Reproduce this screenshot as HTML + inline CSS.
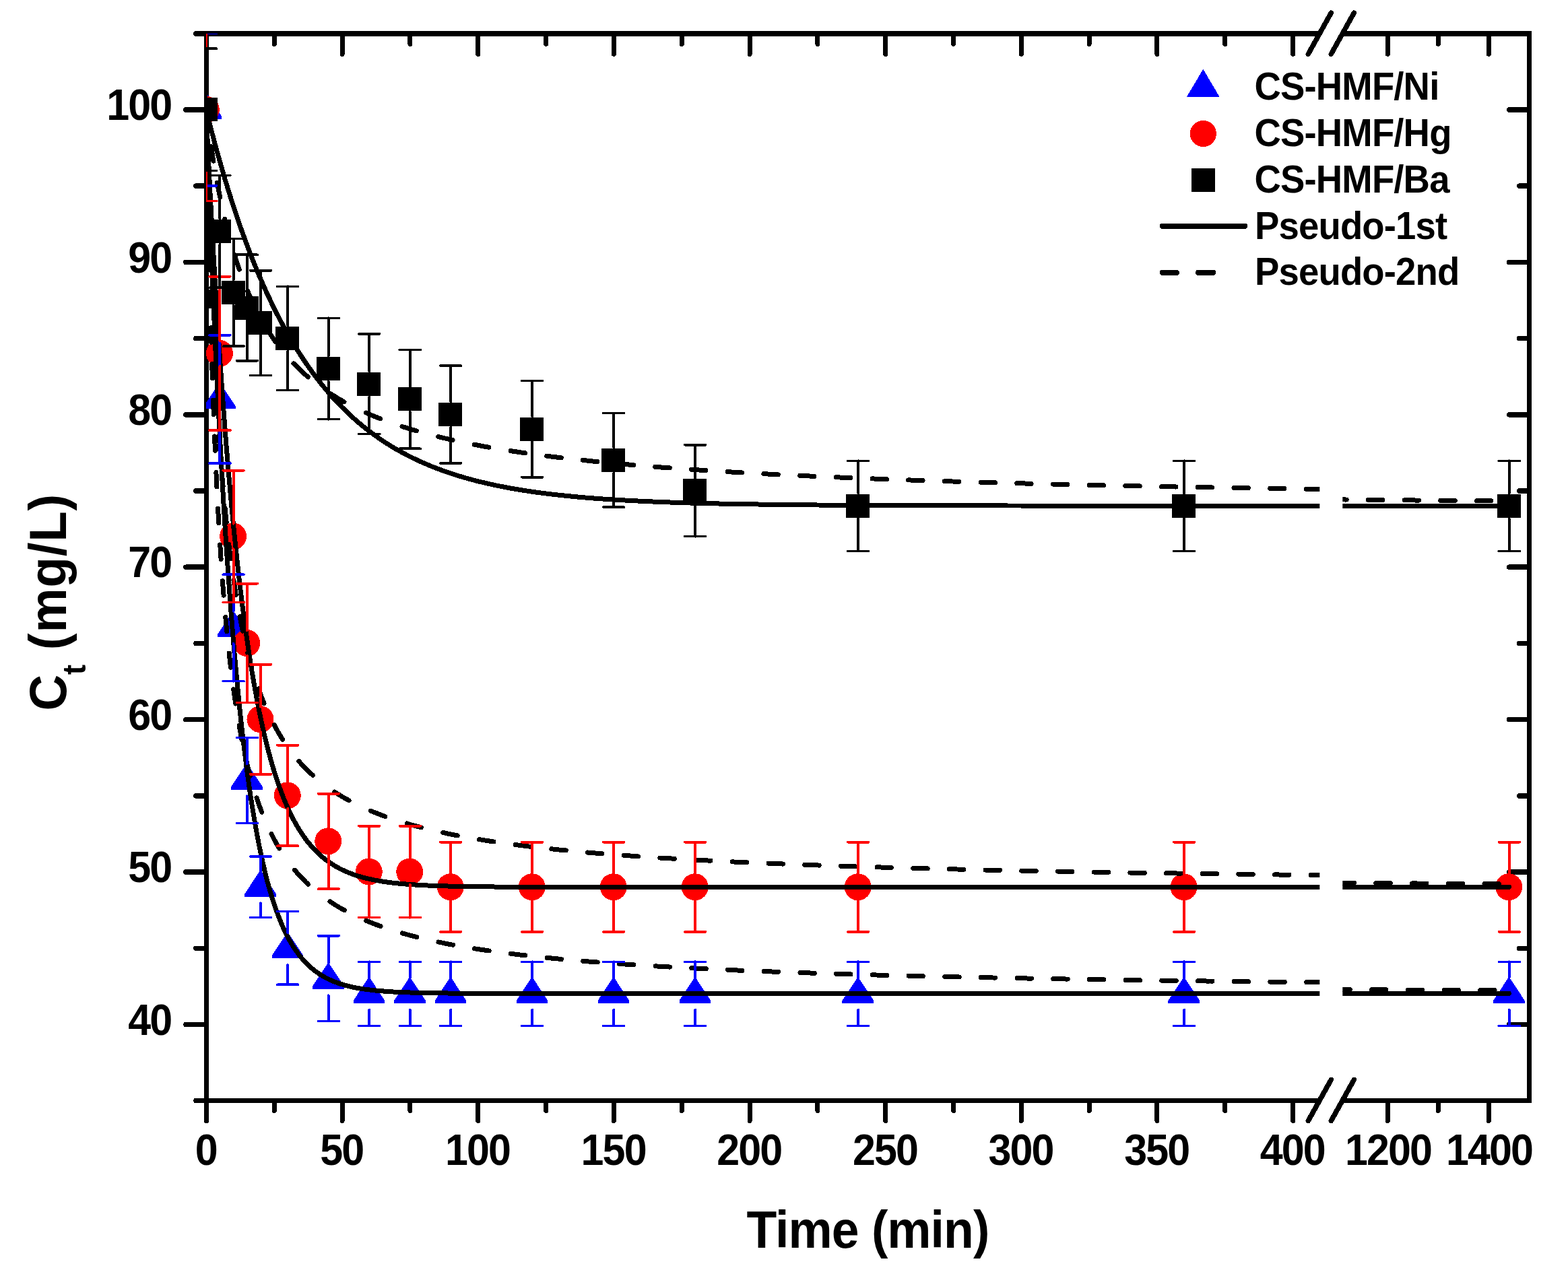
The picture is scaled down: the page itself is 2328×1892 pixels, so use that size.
<!DOCTYPE html>
<html lang="en"><head><meta charset="utf-8"><title>Adsorption kinetics</title>
<style>html,body{margin:0;padding:0;background:#fff}body{width:2328px;height:1892px;overflow:hidden}svg{display:block}text{font-family:"Liberation Sans",sans-serif;font-weight:bold;fill:#000}</style>
</head><body>
<svg width="2328" height="1892" viewBox="0 0 2328 1892" role="img" aria-label="Adsorption kinetics chart">
<rect x="0" y="0" width="2328" height="1892" fill="#fff"/>
<defs>
<clipPath id="c1"><rect x="306.00" y="50.00" width="1653.30" height="1584.50"/></clipPath>
<clipPath id="c2"><rect x="1993.30" y="50.00" width="277.20" height="1584.50"/></clipPath>
<clipPath id="call"><rect x="306.00" y="50.00" width="1653.30" height="1584.50"/><rect x="1993.30" y="50.00" width="277.20" height="1584.50"/></clipPath>
</defs>
<g id="axes" stroke="#000" fill="none" stroke-linecap="butt" shape-rendering="crispEdges">
<path stroke-width="8" d="M306.50 50.00H1959.30M1993.30 50.00H2274.00"/>
<path stroke-width="7" d="M306.50 1634.50H1959.30M1993.30 1634.50H2274.00"/>
<path stroke-width="7" d="M306.50 50.00V1634.50"/>
<path stroke-width="7" d="M2270.50 46.00V1638.00"/>
</g>
<g id="ticks" stroke="#000" fill="none" stroke-linecap="round" shape-rendering="crispEdges">
<path stroke-width="7" d="M306.50 1634.50V1664.50M407.32 50.00V65.40M407.32 1634.50V1649.50M508.14 50.00V80.40M508.14 1634.50V1664.50M608.96 50.00V65.40M608.96 1634.50V1649.50M709.78 50.00V80.40M709.78 1634.50V1664.50M810.60 50.00V65.40M810.60 1634.50V1649.50M911.42 50.00V80.40M911.42 1634.50V1664.50M1012.24 50.00V65.40M1012.24 1634.50V1649.50M1113.06 50.00V80.40M1113.06 1634.50V1664.50M1213.88 50.00V65.40M1213.88 1634.50V1649.50M1314.70 50.00V80.40M1314.70 1634.50V1664.50M1415.52 50.00V65.40M1415.52 1634.50V1649.50M1516.34 50.00V80.40M1516.34 1634.50V1664.50M1617.16 50.00V65.40M1617.16 1634.50V1649.50M1717.98 50.00V80.40M1717.98 1634.50V1664.50M1818.80 50.00V65.40M1818.80 1634.50V1649.50M1919.62 50.00V80.40M1919.62 1634.50V1664.50M2060.40 50.00V80.40M2060.40 1634.50V1664.50M2135.40 50.00V65.40M2135.40 1634.50V1649.50M2210.40 50.00V80.40M2210.40 1634.50V1664.50"/>
<path stroke-width="7.6" d="M306.50 1634.50H290.90M306.50 1521.52H275.90M2270.50 1521.52H2240.70M306.50 1408.31H290.90M2270.50 1408.31H2255.70M306.50 1295.10H275.90M2270.50 1295.10H2240.70M306.50 1181.89H290.90M2270.50 1181.89H2255.70M306.50 1068.68H275.90M2270.50 1068.68H2240.70M306.50 955.47H290.90M2270.50 955.47H2255.70M306.50 842.26H275.90M2270.50 842.26H2240.70M306.50 729.05H290.90M2270.50 729.05H2255.70M306.50 615.84H275.90M2270.50 615.84H2240.70M306.50 502.63H290.90M2270.50 502.63H2255.70M306.50 389.42H275.90M2270.50 389.42H2240.70M306.50 276.21H290.90M2270.50 276.21H2255.70M306.50 163.00H275.90M2270.50 163.00H2240.70M306.50 50.00H290.90"/>
<path stroke-width="7.5" d="M1942.30 80.30L1976.30 19.10M1976.30 80.30L2010.30 19.10M1942.30 1664.60L1976.30 1603.40M1976.30 1664.60L2010.30 1603.40"/>
</g>
<g id="data" clip-path="url(#call)" shape-rendering="crispEdges">
<g id="sym-ni"><path d="M306.00 137.40L329.40 172.90V177.00H282.60V172.90Z" fill="#0000ff"/><path d="M326.16 567.56L349.56 603.06V607.16H302.76V603.06Z" fill="#0000ff"/><path d="M346.33 906.56L369.73 942.06V946.16H322.93V942.06Z" fill="#0000ff"/><path d="M366.49 1133.06L389.89 1168.56V1172.66H343.09V1168.56Z" fill="#0000ff"/><path d="M386.66 1292.04L410.06 1327.54V1331.64H363.26V1327.54Z" fill="#0000ff"/><path d="M426.98 1383.80L450.38 1419.30V1423.40H403.58V1419.30Z" fill="#0000ff"/><path d="M487.48 1429.08L510.88 1464.58V1468.68H464.08V1464.58Z" fill="#0000ff"/><path d="M547.97 1450.52L571.37 1486.02V1490.12H524.57V1486.02Z" fill="#0000ff"/><path d="M608.46 1450.52L631.86 1486.02V1490.12H585.06V1486.02Z" fill="#0000ff"/><path d="M668.95 1450.52L692.35 1486.02V1490.12H645.55V1486.02Z" fill="#0000ff"/><path d="M789.94 1450.52L813.34 1486.02V1490.12H766.54V1486.02Z" fill="#0000ff"/><path d="M910.92 1450.52L934.32 1486.02V1490.12H887.52V1486.02Z" fill="#0000ff"/><path d="M1031.90 1450.52L1055.30 1486.02V1490.12H1008.50V1486.02Z" fill="#0000ff"/><path d="M1273.87 1450.52L1297.27 1486.02V1490.12H1250.47V1486.02Z" fill="#0000ff"/><path d="M1757.81 1450.52L1781.21 1486.02V1490.12H1734.41V1486.02Z" fill="#0000ff"/><path d="M2240.40 1450.52L2263.80 1486.02V1490.12H2217.00V1486.02Z" fill="#0000ff"/></g>
<g id="sym-hg"><circle cx="305.80" cy="162.60" r="20.00" fill="#ff0000"/><circle cx="325.96" cy="524.84" r="20.00" fill="#ff0000"/><circle cx="346.13" cy="796.52" r="20.00" fill="#ff0000"/><circle cx="366.29" cy="955.00" r="20.00" fill="#ff0000"/><circle cx="386.46" cy="1068.20" r="20.00" fill="#ff0000"/><circle cx="426.78" cy="1181.40" r="20.00" fill="#ff0000"/><circle cx="487.28" cy="1249.32" r="20.00" fill="#ff0000"/><circle cx="547.77" cy="1294.60" r="20.00" fill="#ff0000"/><circle cx="608.26" cy="1294.60" r="20.00" fill="#ff0000"/><circle cx="668.75" cy="1317.24" r="20.00" fill="#ff0000"/><circle cx="789.74" cy="1317.24" r="20.00" fill="#ff0000"/><circle cx="910.72" cy="1317.24" r="20.00" fill="#ff0000"/><circle cx="1031.70" cy="1317.24" r="20.00" fill="#ff0000"/><circle cx="1273.67" cy="1317.24" r="20.00" fill="#ff0000"/><circle cx="1757.61" cy="1317.24" r="20.00" fill="#ff0000"/><circle cx="2240.20" cy="1317.24" r="20.00" fill="#ff0000"/></g>
<g id="sym-ba"><rect x="288.30" y="145.20" width="35" height="35" fill="#000000"/><rect x="308.46" y="326.32" width="35" height="35" fill="#000000"/><rect x="328.63" y="416.88" width="35" height="35" fill="#000000"/><rect x="348.79" y="439.52" width="35" height="35" fill="#000000"/><rect x="368.96" y="462.16" width="35" height="35" fill="#000000"/><rect x="409.28" y="484.80" width="35" height="35" fill="#000000"/><rect x="469.78" y="530.08" width="35" height="35" fill="#000000"/><rect x="530.27" y="552.72" width="35" height="35" fill="#000000"/><rect x="590.76" y="575.36" width="35" height="35" fill="#000000"/><rect x="651.25" y="598.00" width="35" height="35" fill="#000000"/><rect x="772.24" y="619.73" width="35" height="35" fill="#000000"/><rect x="893.22" y="665.92" width="35" height="35" fill="#000000"/><rect x="1014.20" y="711.20" width="35" height="35" fill="#000000"/><rect x="1256.17" y="733.84" width="35" height="35" fill="#000000"/><rect x="1740.11" y="733.84" width="35" height="35" fill="#000000"/><rect x="2222.70" y="733.84" width="35" height="35" fill="#000000"/></g>
</g>
<g id="fits" fill="none" stroke="#000" stroke-width="7.00" stroke-linecap="round" stroke-linejoin="round" shape-rendering="crispEdges">
<path clip-path="url(#c1)" d="M306.2 164.0L306.6 167.2L307.0 170.4L307.4 173.6L307.8 176.7L308.2 179.8L308.6 182.8L308.9 185.4M313.5 217.7L314.0 220.8L314.4 223.4L314.8 226.0L315.3 229.1L315.8 232.2L316.2 235.2L316.7 238.2L316.9 239.1M322.5 271.4L323.0 274.1L323.5 276.6L324.0 279.2L324.6 282.1L325.1 285.0L325.7 287.8L326.2 290.6L326.7 292.8M333.8 325.1L334.4 327.6L335.0 330.3L335.7 333.0L336.3 335.6L337.0 338.2L337.6 340.7L338.3 343.2L338.9 345.7L339.1 346.5M348.3 378.8L349.1 381.3L349.8 383.6L350.6 386.1L351.4 388.6L352.2 391.0L353.0 393.5L353.8 395.9L354.6 398.2L355.3 400.2M367.7 432.4L368.6 434.6L369.6 436.8L370.5 439.0L371.5 441.2L372.5 443.4L373.4 445.5L374.4 447.6L375.4 449.7L376.3 451.7L377.4 453.8M394.9 486.1L396.1 488.0L397.3 490.0L398.5 491.9L399.7 493.7L400.9 495.6L402.1 497.4L403.4 499.2L404.6 501.1L405.9 503.0L407.2 504.8L408.5 506.7L409.1 507.5M436.0 539.8L437.5 541.4L439.1 543.0L440.6 544.5L442.1 546.0L443.7 547.5L445.2 549.0L446.8 550.5L448.4 552.0L450.1 553.5L451.7 555.0L453.3 556.4L454.9 557.8L456.5 559.2L457.3 559.9M489.6 584.0L491.5 585.2L493.4 586.4L495.2 587.6L497.1 588.7L499.0 589.9L500.9 591.1L502.9 592.2L504.8 593.4L506.8 594.5L508.7 595.6L510.6 596.7L511.0 596.9M543.3 613.0L545.5 613.9L547.6 614.8L549.7 615.7L551.8 616.7L554.0 617.6L556.2 618.5L558.4 619.4L560.6 620.3L562.7 621.1L564.7 621.9M597.0 633.4L599.3 634.1L601.7 634.9L604.0 635.6L606.4 636.3L608.7 637.1L611.0 637.8L613.4 638.5L615.7 639.2L618.1 639.8L618.4 639.9M650.7 648.6L653.1 649.1L655.6 649.7L658.1 650.3L660.6 650.9L663.1 651.5L665.6 652.1L668.1 652.7L670.6 653.2L672.1 653.6M704.4 660.3L706.9 660.8L709.5 661.2L712.1 661.7L714.7 662.2L717.3 662.7L719.8 663.2L722.4 663.6L725.0 664.1L725.8 664.2M758.1 669.6L760.7 670.0L763.4 670.4L766.1 670.8L768.7 671.2L771.4 671.6L774.0 672.0L776.7 672.4L779.4 672.8L779.5 672.8M811.8 677.2L814.5 677.5L817.2 677.9L819.9 678.2L822.7 678.5L825.4 678.9L828.2 679.2L830.9 679.5L833.2 679.8M865.5 683.5L868.2 683.7L870.9 684.0L873.7 684.3L876.4 684.6L879.1 684.9L881.9 685.2L884.6 685.5L886.9 685.7M919.2 688.8L922.0 689.0L924.8 689.3L927.6 689.5L930.4 689.8L933.3 690.0L936.1 690.3L938.9 690.5L940.6 690.7M972.8 693.3L975.7 693.5L978.5 693.8L981.3 694.0L984.2 694.2L987.0 694.4L989.8 694.6L992.6 694.8L994.2 694.9M1026.5 697.2L1029.4 697.4L1032.2 697.6L1035.0 697.8L1037.9 698.0L1040.7 698.2L1043.5 698.4L1046.3 698.6L1047.9 698.7M1080.2 700.7L1083.1 700.8L1086.0 701.0L1088.9 701.2L1091.8 701.4L1094.7 701.5L1097.6 701.7L1100.5 701.9L1101.6 701.9M1133.9 703.7L1136.8 703.8L1139.7 704.0L1142.6 704.1L1145.5 704.3L1148.5 704.4L1151.4 704.6L1154.3 704.7L1155.3 704.8M1187.6 706.4L1190.5 706.5L1193.4 706.6L1196.3 706.8L1199.2 706.9L1202.1 707.0L1205.0 707.2L1207.9 707.3L1209.0 707.4M1241.3 708.8L1244.2 708.9L1247.1 709.0L1250.0 709.1L1252.9 709.2L1255.8 709.4L1258.7 709.5L1261.6 709.6L1262.7 709.6M1295.0 710.9L1297.9 711.0L1300.8 711.1L1303.7 711.2L1306.6 711.4L1309.5 711.5L1312.4 711.6L1315.3 711.7L1316.4 711.7M1348.7 712.9L1351.6 713.0L1354.5 713.1L1357.4 713.2L1360.3 713.3L1363.2 713.4L1366.1 713.5L1369.0 713.6L1370.1 713.6M1402.4 714.6L1405.3 714.7L1408.3 714.8L1411.3 714.9L1414.3 715.0L1417.3 715.1L1420.3 715.2L1423.2 715.3L1423.8 715.3M1456.1 716.2L1459.0 716.3L1462.0 716.4L1464.9 716.5L1467.9 716.6L1470.9 716.7L1473.9 716.7L1476.9 716.8L1477.5 716.8M1509.7 717.7L1512.7 717.8L1515.7 717.9L1518.7 717.9L1521.6 718.0L1524.6 718.1L1527.6 718.2L1530.6 718.3L1531.1 718.3M1563.4 719.1L1566.4 719.1L1569.4 719.2L1572.4 719.3L1575.4 719.4L1578.3 719.4L1581.3 719.5L1584.3 719.6L1584.8 719.6M1617.1 720.3L1620.1 720.4L1623.1 720.5L1626.1 720.5L1629.1 720.6L1632.1 720.7L1635.0 720.7L1638.0 720.8L1638.5 720.8M1670.8 721.5L1673.8 721.5L1676.7 721.6L1679.7 721.7L1682.7 721.7L1685.7 721.8L1688.7 721.8L1691.7 721.9L1692.2 721.9M1724.5 722.6L1727.5 722.6L1730.5 722.7L1733.4 722.7L1736.4 722.8L1739.4 722.8L1742.4 722.9L1745.4 723.0L1745.9 723.0M1778.2 723.6L1781.2 723.6L1784.2 723.7L1787.2 723.7L1790.2 723.8L1793.1 723.8L1796.1 723.9L1799.1 723.9L1799.6 723.9M1831.9 724.5L1834.8 724.5L1837.8 724.6L1840.8 724.6L1843.8 724.7L1846.8 724.7L1849.8 724.8L1852.7 724.8L1853.3 724.8M1885.6 725.4L1888.6 725.4L1891.5 725.5L1894.5 725.5L1897.5 725.5L1900.5 725.6L1903.5 725.6L1906.5 725.7L1907.0 725.7M1939.3 726.2L1942.3 726.2L1945.3 726.3L1948.2 726.3L1951.2 726.4L1954.2 726.4L1957.2 726.4L1960.2 726.5L1960.7 726.5"/>
<path clip-path="url(#c2)" d="M1985.4 741.8L1988.4 741.9L1991.4 741.9L1994.4 741.9L1997.4 742.0L1999.1 742.0M2031.4 742.3L2034.9 742.4L2037.9 742.4L2040.9 742.4L2043.9 742.4L2046.9 742.5L2049.9 742.5L2052.8 742.5M2085.1 742.8L2088.9 742.9L2091.9 742.9L2094.9 742.9L2097.9 742.9L2100.9 743.0L2103.9 743.0L2106.5 743.0M2138.8 743.3L2142.9 743.3L2145.9 743.3L2148.9 743.4L2151.9 743.4L2154.9 743.4L2157.9 743.4L2160.2 743.5M2192.5 743.7L2196.9 743.7L2199.9 743.8L2202.9 743.8L2205.9 743.8L2208.9 743.8L2211.9 743.8L2213.9 743.9"/>
<path clip-path="url(#c1)" d="M306.0 164.0L306.2 169.6L306.2 173.1L306.3 176.5L306.4 179.9L306.5 183.3L306.5 185.4M307.3 217.7L307.5 222.3L307.5 225.4L307.6 228.5L307.7 231.6L307.8 234.7L307.9 237.7L307.9 239.1M308.8 271.4L308.9 276.0L309.1 281.6L309.2 287.2L309.4 292.7L309.4 292.8M310.4 325.1L310.5 329.8L310.7 334.9L310.8 339.9L311.0 344.9L311.1 346.5M312.1 378.8L312.3 383.0L312.5 387.5L312.6 392.0L312.8 396.5L312.9 400.2M314.1 432.4L314.3 436.8L314.5 440.9L314.6 444.9L314.8 448.8L315.0 452.8L315.0 453.8M316.4 486.1L316.6 490.2L316.7 493.8L316.9 497.3L317.0 500.8L317.2 504.3L317.4 507.5M318.9 539.8L319.1 543.8L319.3 546.9L319.5 550.0L319.6 553.1L319.8 556.1L320.0 559.2L320.1 561.2M321.9 593.5L322.1 596.4L322.3 600.4L322.5 604.5L322.8 608.4L323.0 612.4L323.2 614.9M325.3 647.2L325.5 650.5L325.8 654.0L326.0 657.4L326.2 660.8L326.5 664.2L326.7 667.6L326.8 668.6M329.3 700.9L329.6 704.1L329.8 707.0L330.0 709.9L330.3 712.8L330.5 715.7L330.8 718.5L331.0 721.3L331.1 722.3M334.1 754.6L334.4 758.0L334.7 761.3L335.0 764.5L335.4 767.7L335.7 770.8L336.0 773.9L336.2 776.0M339.8 808.3L340.2 811.4L340.6 814.7L341.0 818.0L341.4 821.3L341.8 824.5L342.2 827.6L342.5 829.7M347.0 862.0L347.4 864.8L347.8 867.5L348.2 870.1L348.6 872.7L349.1 875.8L349.6 878.9L350.0 881.9L350.3 883.4M356.0 915.7L356.5 918.3L357.1 921.2L357.6 924.1L358.2 926.9L358.7 929.7L359.3 932.4L359.9 935.1L360.3 937.1M367.8 969.3L368.4 971.9L369.1 974.3L369.7 976.8L370.4 979.2L371.0 981.6L371.7 984.2L372.5 986.8L373.2 989.4L373.6 990.7M383.9 1023.0L384.7 1025.3L385.5 1027.6L386.4 1030.0L387.3 1032.3L388.2 1034.7L389.1 1037.0L390.0 1039.2L390.9 1041.4L391.7 1043.6L392.1 1044.4M407.2 1076.7L408.3 1078.8L409.4 1080.9L410.5 1082.9L411.7 1084.9L412.8 1086.9L413.9 1088.8L415.0 1090.7L416.2 1092.6L417.4 1094.6L418.6 1096.5L419.6 1098.1M443.8 1130.4L445.2 1132.1L446.7 1133.7L448.1 1135.3L449.6 1136.8L451.1 1138.4L452.6 1140.0L454.2 1141.6L455.7 1143.1L457.2 1144.6L458.8 1146.1L460.4 1147.6L462.0 1149.1L463.6 1150.6L464.4 1151.3M496.7 1176.1L498.5 1177.3L500.4 1178.5L502.2 1179.6L504.2 1180.8L506.1 1182.0L508.0 1183.1L510.0 1184.3L511.9 1185.4L513.9 1186.5L515.8 1187.5L517.8 1188.7L518.1 1188.8M550.4 1204.2L552.6 1205.1L554.7 1206.0L556.9 1206.9L559.1 1207.7L561.3 1208.6L563.5 1209.4L565.6 1210.3L567.9 1211.1L570.1 1211.9L571.8 1212.5M604.1 1223.0L606.4 1223.7L608.8 1224.4L611.2 1225.1L613.6 1225.7L616.0 1226.4L618.5 1227.0L620.9 1227.7L623.3 1228.3L625.5 1228.9M657.8 1236.5L660.2 1237.0L662.7 1237.6L665.2 1238.1L667.7 1238.6L670.2 1239.1L672.7 1239.6L675.3 1240.1L677.9 1240.6L679.2 1240.9M711.5 1246.6L714.0 1247.0L716.7 1247.5L719.4 1247.9L722.0 1248.3L724.7 1248.7L727.3 1249.2L730.0 1249.6L732.7 1250.0L732.9 1250.0M765.1 1254.5L767.8 1254.9L770.5 1255.2L773.2 1255.5L775.9 1255.9L778.6 1256.2L781.4 1256.6L784.1 1256.9L786.5 1257.2M818.8 1260.8L821.6 1261.1L824.3 1261.4L827.0 1261.7L829.8 1262.0L832.5 1262.2L835.3 1262.5L838.0 1262.8L840.2 1263.0M872.5 1266.0L875.4 1266.3L878.2 1266.5L881.0 1266.7L883.8 1267.0L886.6 1267.2L889.5 1267.5L892.3 1267.7L893.9 1267.8M926.2 1270.3L929.1 1270.5L931.9 1270.7L934.7 1270.9L937.5 1271.1L940.4 1271.3L943.2 1271.5L946.0 1271.7L947.6 1271.9M979.9 1274.0L982.8 1274.2L985.7 1274.3L988.6 1274.5L991.5 1274.7L994.4 1274.9L997.3 1275.0L1000.2 1275.2L1001.3 1275.3M1033.6 1277.1L1036.5 1277.3L1039.4 1277.4L1042.3 1277.6L1045.2 1277.7L1048.1 1277.9L1051.0 1278.0L1053.9 1278.2L1055.0 1278.2M1087.3 1279.8L1090.2 1280.0L1093.1 1280.1L1096.0 1280.2L1098.9 1280.4L1101.8 1280.5L1104.7 1280.6L1107.6 1280.8L1108.7 1280.8M1141.0 1282.2L1143.9 1282.3L1146.8 1282.5L1149.7 1282.6L1152.6 1282.7L1155.5 1282.8L1158.5 1282.9L1161.4 1283.0L1162.4 1283.1M1194.7 1284.3L1197.6 1284.4L1200.5 1284.5L1203.4 1284.6L1206.3 1284.7L1209.2 1284.8L1212.1 1284.9L1215.0 1285.0L1216.1 1285.1M1248.4 1286.2L1251.3 1286.3L1254.3 1286.4L1257.3 1286.5L1260.2 1286.6L1263.2 1286.7L1266.2 1286.8L1269.2 1286.8L1269.8 1286.9M1302.0 1287.9L1305.0 1287.9L1308.0 1288.0L1311.0 1288.1L1314.0 1288.2L1316.9 1288.3L1319.9 1288.4L1322.9 1288.5L1323.4 1288.5M1355.7 1289.4L1358.7 1289.4L1361.7 1289.5L1364.7 1289.6L1367.7 1289.7L1370.7 1289.7L1373.6 1289.8L1376.6 1289.9L1377.1 1289.9M1409.4 1290.7L1412.4 1290.8L1415.3 1290.9L1418.3 1290.9L1421.3 1291.0L1424.3 1291.1L1427.3 1291.1L1430.3 1291.2L1430.8 1291.2M1463.1 1292.0L1466.1 1292.0L1469.1 1292.1L1472.0 1292.2L1475.0 1292.2L1478.0 1292.3L1481.0 1292.3L1484.0 1292.4L1484.5 1292.4M1516.8 1293.1L1519.8 1293.1L1522.8 1293.2L1525.8 1293.3L1528.7 1293.3L1531.7 1293.4L1534.7 1293.4L1537.7 1293.5L1538.2 1293.5M1570.5 1294.1L1573.5 1294.2L1576.5 1294.2L1579.5 1294.3L1582.5 1294.3L1585.4 1294.4L1588.4 1294.4L1591.4 1294.5L1591.9 1294.5M1624.2 1295.1L1627.1 1295.1L1630.1 1295.2L1633.1 1295.2L1636.1 1295.3L1639.1 1295.3L1642.1 1295.4L1645.1 1295.4L1645.6 1295.4M1677.9 1296.0L1680.9 1296.0L1683.8 1296.1L1686.8 1296.1L1689.8 1296.1L1692.8 1296.2L1695.8 1296.2L1698.8 1296.3L1699.3 1296.3M1731.6 1296.8L1734.6 1296.8L1737.6 1296.9L1740.5 1296.9L1743.5 1296.9L1746.5 1297.0L1749.5 1297.0L1752.5 1297.1L1753.0 1297.1M1785.3 1297.5L1788.3 1297.6L1791.3 1297.6L1794.3 1297.7L1797.2 1297.7L1800.2 1297.7L1803.2 1297.8L1806.2 1297.8L1806.7 1297.8M1838.9 1298.2L1841.9 1298.3L1844.9 1298.3L1847.9 1298.3L1850.9 1298.4L1853.9 1298.4L1856.9 1298.5L1859.8 1298.5L1860.3 1298.5M1892.6 1298.9L1895.6 1298.9L1898.6 1299.0L1901.6 1299.0L1904.6 1299.0L1907.6 1299.1L1910.6 1299.1L1913.6 1299.1L1914.0 1299.1M1946.3 1299.5L1949.4 1299.5L1952.4 1299.6L1955.3 1299.6L1958.3 1299.6L1961.3 1299.7L1964.3 1299.7L1967.3 1299.7L1967.5 1299.7"/>
<path clip-path="url(#c2)" d="M1989.1 1311.1L1992.9 1311.2L1995.9 1311.2L1998.9 1311.2L2001.9 1311.2L2004.9 1311.3L2007.9 1311.3L2010.5 1311.3M2042.8 1311.6L2046.9 1311.6L2049.9 1311.6L2052.9 1311.6L2055.9 1311.6L2058.9 1311.7L2061.9 1311.7L2064.2 1311.7M2096.5 1311.9L2100.9 1311.9L2103.9 1312.0L2106.9 1312.0L2109.9 1312.0L2112.9 1312.0L2115.9 1312.0L2117.9 1312.1M2150.2 1312.3L2153.4 1312.3L2156.4 1312.3L2159.4 1312.3L2162.4 1312.3L2165.4 1312.3L2168.4 1312.4L2171.4 1312.4L2171.6 1312.4M2203.9 1312.5L2207.4 1312.6L2210.4 1312.6L2213.4 1312.6L2216.4 1312.6L2219.4 1312.6L2222.4 1312.6L2225.3 1312.7"/>
<path clip-path="url(#c1)" d="M306.0 164.7L306.2 172.5L306.2 177.4L306.3 182.2L306.4 186.1M306.9 218.4L307.0 224.1L307.1 228.6L307.2 233.0L307.3 237.5L307.3 239.8M307.9 272.1L308.0 275.9L308.1 280.0L308.2 284.1L308.3 288.2L308.3 292.2L308.4 293.5M309.0 325.8L309.1 331.1L309.2 334.9L309.3 338.6L309.4 342.3L309.5 346.0L309.5 347.2M310.2 379.5L310.4 385.0L310.4 388.4L310.5 391.8L310.6 395.1L310.7 398.5L310.7 400.9M311.5 433.1L311.6 437.1L311.7 440.2L311.8 443.2L311.9 446.3L312.0 449.3L312.0 452.3L312.1 454.5M313.0 486.8L313.1 490.0L313.3 495.6L313.4 501.1L313.6 506.5L313.6 508.2M314.6 540.5L314.8 545.4L315.0 550.3L315.1 555.2L315.3 560.1L315.3 561.9M316.5 594.2L316.6 599.3L316.8 603.7L317.0 608.0L317.1 612.3L317.3 615.6M318.5 647.9L318.7 651.2L318.8 655.1L319.0 658.9L319.1 662.7L319.3 666.5L319.4 669.3M320.9 701.6L321.1 705.9L321.2 709.3L321.4 712.7L321.6 716.0L321.7 719.3L321.9 722.6L321.9 723.0M323.6 755.3L323.7 758.3L323.9 761.2L324.1 764.1L324.2 767.0L324.4 769.9L324.6 772.8L324.8 776.7M326.7 809.0L327.0 812.9L327.2 816.7L327.5 820.4L327.7 824.1L327.9 827.7L328.1 830.4M330.4 862.7L330.7 866.3L330.9 869.5L331.2 872.7L331.4 875.8L331.6 878.9L331.9 881.9L332.1 884.1M334.8 916.4L335.1 919.9L335.4 923.4L335.8 926.9L336.1 930.3L336.4 933.7L336.7 937.1L336.8 937.8M340.1 970.0L340.4 972.9L340.8 975.7L341.1 978.6L341.4 981.4L341.7 984.2L342.1 987.0L342.4 989.7L342.6 991.4M346.7 1023.7L347.1 1026.7L347.5 1029.6L347.9 1032.4L348.3 1035.2L348.7 1038.0L349.2 1040.7L349.6 1043.4L349.8 1045.1M355.1 1077.4L355.6 1080.3L356.1 1082.9L356.6 1085.6L357.1 1088.2L357.5 1090.8L358.0 1093.3L358.6 1096.2L359.1 1098.8M366.1 1131.1L366.7 1133.9L367.4 1136.5L368.0 1139.1L368.7 1141.7L369.3 1144.3L370.0 1146.8L370.6 1149.2L371.3 1151.7L371.5 1152.5M381.1 1184.8L381.9 1187.1L382.7 1189.5L383.5 1191.8L384.3 1194.1L385.1 1196.4L385.9 1198.6L386.8 1201.0L387.7 1203.4L388.6 1205.7L388.8 1206.2M403.0 1238.5L404.0 1240.5L405.0 1242.6L406.1 1244.6L407.1 1246.6L408.3 1248.7L409.4 1250.7L410.5 1252.7L411.7 1254.7L412.8 1256.7L413.9 1258.6L414.7 1259.9M437.6 1292.2L439.0 1293.8L440.5 1295.5L441.9 1297.2L443.4 1298.8L444.8 1300.4L446.3 1302.0L447.8 1303.6L449.3 1305.2L450.9 1306.8L452.4 1308.3L453.9 1309.9L455.5 1311.3L457.1 1312.9L457.6 1313.4M489.9 1338.9L491.8 1340.1L493.6 1341.3L495.5 1342.5L497.3 1343.7L499.3 1344.9L501.2 1346.0L503.1 1347.2L505.1 1348.3L507.0 1349.4L508.9 1350.5L510.9 1351.6L511.3 1351.8M543.6 1367.3L545.8 1368.2L548.0 1369.0L550.1 1369.9L552.3 1370.8L554.5 1371.6L556.7 1372.5L558.9 1373.3L561.2 1374.1L563.5 1375.0L565.0 1375.5M597.3 1385.9L599.7 1386.5L602.1 1387.2L604.5 1387.9L606.9 1388.5L609.3 1389.2L611.8 1389.8L614.2 1390.5L616.6 1391.1L618.7 1391.6M651.0 1399.0L653.5 1399.5L656.0 1400.0L658.5 1400.6L661.1 1401.1L663.7 1401.6L666.3 1402.1L668.9 1402.6L671.5 1403.1L672.4 1403.2M704.7 1408.8L707.3 1409.2L710.0 1409.6L712.7 1410.0L715.3 1410.4L718.0 1410.8L720.7 1411.2L723.3 1411.6L726.0 1412.0L726.1 1412.0M758.4 1416.4L761.1 1416.7L763.8 1417.0L766.5 1417.4L769.3 1417.7L772.0 1418.0L774.8 1418.3L777.5 1418.7L779.8 1418.9M812.1 1422.4L814.9 1422.7L817.6 1422.9L820.3 1423.2L823.1 1423.5L825.8 1423.7L828.6 1424.0L831.3 1424.3L833.5 1424.5M865.8 1427.3L868.6 1427.5L871.4 1427.8L874.2 1428.0L877.0 1428.2L879.9 1428.5L882.7 1428.7L885.5 1428.9L887.2 1429.0M919.4 1431.4L922.3 1431.6L925.1 1431.8L927.9 1432.0L930.8 1432.2L933.6 1432.4L936.4 1432.5L939.2 1432.7L940.8 1432.8M973.1 1434.8L976.0 1435.0L978.9 1435.2L981.8 1435.3L984.7 1435.5L987.6 1435.7L990.5 1435.8L993.4 1436.0L994.5 1436.1M1026.8 1437.8L1029.7 1437.9L1032.6 1438.1L1035.5 1438.2L1038.4 1438.4L1041.3 1438.5L1044.2 1438.7L1047.1 1438.8L1048.2 1438.8M1080.5 1440.3L1083.4 1440.5L1086.3 1440.6L1089.3 1440.7L1092.2 1440.8L1095.1 1441.0L1098.0 1441.1L1100.9 1441.2L1101.9 1441.3M1134.2 1442.6L1137.2 1442.7L1140.1 1442.8L1143.0 1442.9L1145.9 1443.0L1148.8 1443.1L1151.7 1443.2L1154.6 1443.3L1155.6 1443.4M1187.9 1444.5L1190.9 1444.6L1193.8 1444.7L1196.7 1444.8L1199.6 1444.9L1202.5 1445.0L1205.4 1445.1L1208.4 1445.2L1209.3 1445.2M1241.6 1446.3L1244.5 1446.4L1247.5 1446.5L1250.5 1446.5L1253.5 1446.6L1256.5 1446.7L1259.4 1446.8L1262.4 1446.9L1263.0 1446.9M1295.3 1447.8L1298.2 1447.9L1301.2 1448.0L1304.2 1448.1L1307.2 1448.2L1310.2 1448.2L1313.2 1448.3L1316.1 1448.4L1316.7 1448.4M1349.0 1449.2L1351.9 1449.3L1354.9 1449.4L1357.9 1449.5L1360.9 1449.5L1363.9 1449.6L1366.9 1449.7L1369.9 1449.7L1370.4 1449.8M1402.7 1450.5L1405.7 1450.6L1408.6 1450.6L1411.6 1450.7L1414.6 1450.8L1417.6 1450.8L1420.6 1450.9L1423.6 1451.0L1424.1 1451.0M1456.3 1451.6L1459.3 1451.7L1462.3 1451.8L1465.3 1451.8L1468.3 1451.9L1471.2 1451.9L1474.2 1452.0L1477.2 1452.1L1477.7 1452.1M1510.0 1452.7L1513.0 1452.8L1516.0 1452.8L1519.0 1452.9L1522.0 1452.9L1525.0 1453.0L1527.9 1453.0L1530.9 1453.1L1531.4 1453.1M1563.7 1453.7L1566.7 1453.7L1569.7 1453.8L1572.7 1453.8L1575.7 1453.9L1578.7 1453.9L1581.7 1454.0L1584.6 1454.0L1585.1 1454.0M1617.4 1454.5L1620.5 1454.6L1623.4 1454.6L1626.4 1454.7L1629.4 1454.7L1632.4 1454.8L1635.4 1454.8L1638.4 1454.9L1638.8 1454.9M1671.1 1455.4L1674.1 1455.4L1677.1 1455.4L1680.1 1455.5L1683.0 1455.5L1686.0 1455.6L1689.0 1455.6L1692.0 1455.7L1692.5 1455.7M1724.8 1456.1L1727.8 1456.2L1730.8 1456.2L1733.8 1456.2L1736.8 1456.3L1739.7 1456.3L1742.7 1456.4L1745.7 1456.4L1746.2 1456.4M1778.5 1456.8L1781.5 1456.8L1784.5 1456.9L1787.5 1456.9L1790.5 1457.0L1793.5 1457.0L1796.4 1457.0L1799.4 1457.1L1799.9 1457.1M1832.2 1457.5L1835.2 1457.5L1838.1 1457.5L1841.1 1457.6L1844.1 1457.6L1847.1 1457.6L1850.1 1457.7L1853.1 1457.7L1853.6 1457.7M1885.9 1458.1L1888.9 1458.1L1891.9 1458.1L1894.8 1458.2L1897.8 1458.2L1900.8 1458.2L1903.8 1458.3L1906.8 1458.3L1907.3 1458.3M1939.6 1458.6L1942.6 1458.7L1945.6 1458.7L1948.6 1458.7L1951.5 1458.8L1954.5 1458.8L1957.5 1458.8L1960.5 1458.9L1961.0 1458.9"/>
<path clip-path="url(#c2)" d="M1985.4 1469.3L1988.4 1469.3L1991.4 1469.3L1994.4 1469.4L1997.4 1469.4L2000.4 1469.4L2003.4 1469.4L2004.3 1469.4M2036.6 1469.7L2040.9 1469.7L2043.9 1469.7L2046.9 1469.7L2049.9 1469.8L2052.9 1469.8L2055.9 1469.8L2058.0 1469.8M2090.3 1470.0L2093.4 1470.0L2096.4 1470.0L2099.4 1470.1L2102.4 1470.1L2105.4 1470.1L2108.4 1470.1L2111.4 1470.1L2111.7 1470.1M2144.0 1470.3L2147.4 1470.3L2150.4 1470.3L2153.4 1470.4L2156.4 1470.4L2159.4 1470.4L2162.4 1470.4L2165.4 1470.4M2197.7 1470.6L2201.4 1470.6L2204.4 1470.6L2207.4 1470.6L2210.4 1470.6L2213.4 1470.7L2216.4 1470.7L2219.1 1470.7"/>
<path clip-path="url(#c1)" d="M306.0 162.7L307.0 166.8L308.0 170.8L309.0 174.8L310.0 178.8L311.0 182.8L312.0 186.7L313.1 190.6L314.1 194.5L315.1 198.4L316.1 202.2L317.1 206.0L318.1 209.8L319.1 213.5L320.1 217.3L321.1 221.0L322.1 224.6L323.1 228.3L324.1 231.9L325.2 235.5L326.2 239.1L327.2 242.6L328.2 246.1L329.2 249.6L330.2 253.1L331.2 256.5L332.2 260.0L333.2 263.4L334.2 266.8L335.2 270.1L336.2 273.4L337.3 276.7L338.3 280.0L339.3 283.3L340.3 286.5L341.3 289.8L342.3 292.9L343.3 296.1L344.3 299.3L345.3 302.4L346.3 305.5L347.3 308.6L348.3 311.7L349.4 314.7L350.4 317.7L351.4 320.7L352.4 323.7L353.4 326.7L354.4 329.6L355.4 332.5L356.4 335.4L357.4 338.3L358.4 341.2L359.4 344.0L360.4 346.8L361.5 349.6L362.5 352.4L363.5 355.2L364.5 357.9L365.5 360.6L366.5 363.3L367.5 366.0L368.5 368.7L369.5 371.3L370.5 374.0L371.5 376.6L372.5 379.2L373.5 381.8L374.6 384.3L375.6 386.8L376.6 389.4L377.6 391.9L378.6 394.4L379.6 396.8L380.6 399.3L381.6 401.7L382.6 404.1L383.6 406.5L384.6 408.9L385.6 411.3L386.7 413.7L387.7 416.0L388.7 418.3L389.7 420.6L390.7 422.9L391.7 425.2L392.7 427.4L393.7 429.7L394.7 431.9L395.7 434.1L396.7 436.3L397.7 438.5L398.8 440.7L399.8 442.8L400.8 444.9L401.8 447.1L402.8 449.2L403.8 451.3L404.8 453.3L405.8 455.4L406.8 457.5L407.8 459.5L408.8 461.5L409.8 463.5L410.9 465.5L411.9 467.5L412.9 469.4L413.9 471.4L414.9 473.3L415.9 475.3L416.9 477.2L417.9 479.1L418.9 480.9L419.9 482.8L420.9 484.7L421.9 486.5L423.0 488.4L424.0 490.2L425.0 492.0L426.0 493.8L427.0 495.6L428.0 497.3L429.0 499.1L430.0 500.8L431.0 502.6L432.0 504.3L433.0 506.0L434.0 507.7L435.0 509.4L436.1 511.1L437.1 512.7L438.1 514.4L439.1 516.0L440.1 517.6L441.1 519.3L442.1 520.9L443.1 522.5L444.1 524.0L445.1 525.6L446.1 527.2L447.1 528.7L448.2 530.3L449.2 531.8L450.2 533.3L451.2 534.8L452.2 536.3L453.2 537.8L454.2 539.3L455.2 540.8L456.2 542.2L457.2 543.7L458.2 545.1L459.2 546.5L460.3 547.9L461.3 549.3L462.3 550.7L463.3 552.1L464.3 553.5L465.3 554.9L466.3 556.2L467.3 557.6L468.3 558.9L469.3 560.3L470.3 561.6L471.3 562.9L472.4 564.2L473.4 565.5L474.4 566.8L475.4 568.1L476.4 569.3L477.4 570.6L478.4 571.8L479.4 573.1L480.4 574.3L481.4 575.5L482.4 576.7L483.4 578.0L484.5 579.2L485.5 580.3L486.5 581.5L487.5 582.7L488.5 583.9L489.5 585.0L490.5 586.2L491.5 587.3L492.5 588.5L493.5 589.6L494.5 590.7L495.5 591.8L496.5 592.9L497.6 594.0L498.6 595.1L499.6 596.2L500.6 597.2L501.6 598.3L502.6 599.4L503.6 600.4L504.6 601.5L505.6 602.5L506.6 603.5L507.6 604.6L508.6 605.6L509.7 606.6L510.7 607.6L511.7 608.6L512.7 609.6L513.7 610.5L514.7 611.5L515.7 612.5L516.7 613.4L517.7 614.4L518.7 615.3L519.7 616.3L520.7 617.2L521.8 618.1L522.8 619.1L523.8 620.0L524.8 620.9L525.8 621.8L526.8 622.7L527.8 623.6L528.8 624.5L529.8 625.3L530.8 626.2L531.8 627.1L532.8 627.9L533.9 628.8L534.9 629.6L535.9 630.5L536.9 631.3L537.9 632.1L538.9 633.0L539.9 633.8L540.9 634.6L541.9 635.4L542.9 636.2L543.9 637.0L544.9 637.8L546.0 638.6L547.0 639.4L548.0 640.1L552.0 643.2L556.0 646.1L560.1 649.0L564.1 651.8L568.1 654.5L572.2 657.2L576.2 659.8L580.2 662.3L584.3 664.7L588.3 667.1L592.3 669.4L596.4 671.6L600.4 673.8L604.4 675.9L608.5 678.0L612.5 680.0L616.5 681.9L620.6 683.8L624.6 685.7L628.6 687.5L632.7 689.2L636.7 690.9L640.7 692.6L644.8 694.2L648.8 695.7L652.8 697.2L656.9 698.7L660.9 700.2L664.9 701.6L669.0 702.9L673.0 704.2L677.0 705.5L681.1 706.8L685.1 708.0L689.1 709.2L693.1 710.3L697.2 711.4L701.2 712.5L705.2 713.6L709.3 714.6L713.3 715.6L717.3 716.6L721.4 717.5L725.4 718.5L729.4 719.3L733.5 720.2L737.5 721.1L741.5 721.9L745.6 722.7L749.6 723.5L753.6 724.2L757.7 725.0L761.7 725.7L765.7 726.4L769.8 727.1L773.8 727.7L777.8 728.4L781.9 729.0L785.9 729.6L789.9 730.2L794.0 730.8L798.0 731.3L802.0 731.9L806.1 732.4L810.1 732.9L814.1 733.4L818.2 733.9L822.2 734.4L826.2 734.8L830.3 735.3L834.3 735.7L838.3 736.1L842.4 736.5L846.4 736.9L850.4 737.3L854.5 737.7L858.5 738.1L862.5 738.4L866.6 738.8L870.6 739.1L874.6 739.4L878.7 739.8L882.7 740.1L886.7 740.4L890.8 740.7L894.8 741.0L898.8 741.2L902.9 741.5L906.9 741.8L910.9 742.0L931.1 743.2L951.2 744.2L971.4 745.1L991.6 745.9L1011.7 746.6L1031.9 747.2L1052.1 747.7L1072.2 748.1L1092.4 748.5L1112.6 748.8L1132.7 749.1L1152.9 749.4L1173.1 749.6L1193.2 749.8L1213.4 750.0L1233.5 750.1L1253.7 750.3L1273.9 750.4L1294.0 750.5L1314.2 750.5L1334.4 750.6L1354.5 750.7L1374.7 750.7L1394.9 750.8L1415.0 750.8L1435.2 750.9L1455.3 750.9L1475.5 750.9L1495.7 751.0L1515.8 751.0L1536.0 751.0L1556.2 751.0L1576.3 751.0L1596.5 751.0L1616.7 751.0L1636.8 751.1L1657.0 751.1L1677.2 751.1L1697.3 751.1L1717.5 751.1L1737.6 751.1L1757.8 751.1L1778.0 751.1L1798.1 751.1L1818.3 751.1L1838.5 751.1L1858.6 751.1L1878.8 751.1L1899.0 751.1L1919.1 751.1L1939.3 751.1L1959.4 751.1L1967.5 751.1"/>
<path clip-path="url(#c2)" d="M1985.4 751.1L2240.4 751.1"/>
<path clip-path="url(#c1)" d="M306.0 162.7L307.0 184.4L308.0 205.8L309.0 226.7L310.0 247.2L311.0 267.3L312.0 287.1L313.1 306.5L314.1 325.5L315.1 344.2L316.1 362.5L317.1 380.5L318.1 398.1L319.1 415.4L320.1 432.4L321.1 449.0L322.1 465.4L323.1 481.4L324.1 497.1L325.2 512.6L326.2 527.7L327.2 542.6L328.2 557.2L329.2 571.5L330.2 585.5L331.2 599.3L332.2 612.8L333.2 626.1L334.2 639.1L335.2 651.8L336.2 664.4L337.3 676.7L338.3 688.7L339.3 700.5L340.3 712.1L341.3 723.5L342.3 734.7L343.3 745.7L344.3 756.4L345.3 767.0L346.3 777.4L347.3 787.5L348.3 797.5L349.4 807.3L350.4 816.9L351.4 826.3L352.4 835.5L353.4 844.6L354.4 853.5L355.4 862.2L356.4 870.8L357.4 879.2L358.4 887.4L359.4 895.5L360.4 903.5L361.5 911.3L362.5 918.9L363.5 926.4L364.5 933.8L365.5 941.0L366.5 948.1L367.5 955.0L368.5 961.8L369.5 968.5L370.5 975.1L371.5 981.5L372.5 987.9L373.5 994.1L374.6 1000.1L375.6 1006.1L376.6 1012.0L377.6 1017.7L378.6 1023.4L379.6 1028.9L380.6 1034.3L381.6 1039.6L382.6 1044.9L383.6 1050.0L384.6 1055.0L385.6 1060.0L386.7 1064.8L387.7 1069.6L388.7 1074.2L389.7 1078.8L390.7 1083.3L391.7 1087.7L392.7 1092.0L393.7 1096.3L394.7 1100.4L395.7 1104.5L396.7 1108.5L397.7 1112.4L398.8 1116.3L399.8 1120.1L400.8 1123.8L401.8 1127.4L402.8 1131.0L403.8 1134.5L404.8 1138.0L405.8 1141.3L406.8 1144.6L407.8 1147.9L408.8 1151.1L409.8 1154.2L410.9 1157.3L411.9 1160.3L412.9 1163.2L413.9 1166.1L414.9 1169.0L415.9 1171.8L416.9 1174.5L417.9 1177.2L418.9 1179.9L419.9 1182.4L420.9 1185.0L421.9 1187.5L423.0 1189.9L424.0 1192.3L425.0 1194.7L426.0 1197.0L427.0 1199.2L428.0 1201.5L429.0 1203.6L430.0 1205.8L431.0 1207.9L432.0 1209.9L433.0 1212.0L434.0 1213.9L435.0 1215.9L436.1 1217.8L437.1 1219.7L438.1 1221.5L439.1 1223.3L440.1 1225.1L441.1 1226.8L442.1 1228.5L443.1 1230.2L444.1 1231.8L445.1 1233.4L446.1 1235.0L447.1 1236.6L448.2 1238.1L449.2 1239.6L450.2 1241.0L451.2 1242.5L452.2 1243.9L453.2 1245.3L454.2 1246.6L455.2 1248.0L456.2 1249.3L457.2 1250.6L458.2 1251.8L459.2 1253.0L460.3 1254.3L461.3 1255.4L462.3 1256.6L463.3 1257.7L464.3 1258.9L465.3 1260.0L466.3 1261.0L467.3 1262.1L468.3 1263.1L469.3 1264.2L470.3 1265.2L471.3 1266.2L472.4 1267.1L473.4 1268.1L474.4 1269.0L475.4 1269.9L476.4 1270.8L477.4 1271.7L478.4 1272.5L479.4 1273.4L480.4 1274.2L481.4 1275.0L482.4 1275.8L483.4 1276.6L484.5 1277.4L485.5 1278.1L486.5 1278.8L487.5 1279.6L488.5 1280.3L489.5 1281.0L490.5 1281.7L491.5 1282.3L492.5 1283.0L493.5 1283.6L494.5 1284.3L495.5 1284.9L496.5 1285.5L497.6 1286.1L498.6 1286.7L499.6 1287.3L500.6 1287.8L501.6 1288.4L502.6 1288.9L503.6 1289.5L504.6 1290.0L505.6 1290.5L506.6 1291.0L507.6 1291.5L508.6 1292.0L509.7 1292.5L510.7 1292.9L511.7 1293.4L512.7 1293.9L513.7 1294.3L514.7 1294.7L515.7 1295.2L516.7 1295.6L517.7 1296.0L518.7 1296.4L519.7 1296.8L520.7 1297.2L521.8 1297.5L522.8 1297.9L523.8 1298.3L524.8 1298.6L525.8 1299.0L526.8 1299.3L527.8 1299.7L528.8 1300.0L529.8 1300.3L530.8 1300.7L531.8 1301.0L532.8 1301.3L533.9 1301.6L534.9 1301.9L535.9 1302.2L536.9 1302.5L537.9 1302.7L538.9 1303.0L539.9 1303.3L540.9 1303.5L541.9 1303.8L542.9 1304.1L543.9 1304.3L544.9 1304.6L546.0 1304.8L547.0 1305.0L548.0 1305.3L552.0 1306.1L556.0 1307.0L560.1 1307.7L564.1 1308.4L568.1 1309.1L572.2 1309.7L576.2 1310.2L580.2 1310.8L584.3 1311.2L588.3 1311.7L592.3 1312.1L596.4 1312.5L600.4 1312.8L604.4 1313.2L608.5 1313.5L612.5 1313.8L616.5 1314.0L620.6 1314.3L624.6 1314.5L628.6 1314.7L632.7 1314.9L636.7 1315.1L640.7 1315.2L644.8 1315.4L648.8 1315.5L652.8 1315.7L656.9 1315.8L660.9 1315.9L664.9 1316.0L669.0 1316.1L673.0 1316.2L677.0 1316.3L681.1 1316.4L685.1 1316.4L689.1 1316.5L693.1 1316.6L697.2 1316.6L701.2 1316.7L705.2 1316.7L709.3 1316.8L713.3 1316.8L717.3 1316.8L721.4 1316.9L725.4 1316.9L729.4 1316.9L733.5 1317.0L737.5 1317.0L741.5 1317.0L745.6 1317.0L749.6 1317.1L753.6 1317.1L757.7 1317.1L761.7 1317.1L765.7 1317.1L769.8 1317.2L773.8 1317.2L777.8 1317.2L781.9 1317.2L785.9 1317.2L789.9 1317.2L794.0 1317.2L798.0 1317.2L802.0 1317.2L806.1 1317.2L810.1 1317.3L814.1 1317.3L818.2 1317.3L822.2 1317.3L826.2 1317.3L830.3 1317.3L834.3 1317.3L838.3 1317.3L842.4 1317.3L846.4 1317.3L850.4 1317.3L854.5 1317.3L858.5 1317.3L862.5 1317.3L866.6 1317.3L870.6 1317.3L874.6 1317.3L878.7 1317.3L882.7 1317.3L886.7 1317.3L890.8 1317.3L894.8 1317.3L898.8 1317.3L902.9 1317.3L906.9 1317.3L910.9 1317.3L931.1 1317.3L951.2 1317.3L971.4 1317.3L991.6 1317.3L1011.7 1317.3L1031.9 1317.3L1052.1 1317.3L1072.2 1317.3L1092.4 1317.3L1112.6 1317.3L1132.7 1317.3L1152.9 1317.3L1173.1 1317.3L1193.2 1317.3L1213.4 1317.3L1233.5 1317.3L1253.7 1317.3L1273.9 1317.3L1294.0 1317.3L1314.2 1317.3L1334.4 1317.3L1354.5 1317.3L1374.7 1317.3L1394.9 1317.3L1415.0 1317.3L1435.2 1317.3L1455.3 1317.3L1475.5 1317.3L1495.7 1317.3L1515.8 1317.3L1536.0 1317.3L1556.2 1317.3L1576.3 1317.3L1596.5 1317.3L1616.7 1317.3L1636.8 1317.3L1657.0 1317.3L1677.2 1317.3L1697.3 1317.3L1717.5 1317.3L1737.6 1317.3L1757.8 1317.3L1778.0 1317.3L1798.1 1317.3L1818.3 1317.3L1838.5 1317.3L1858.6 1317.3L1878.8 1317.3L1899.0 1317.3L1919.1 1317.3L1939.3 1317.3L1959.4 1317.3L1967.5 1317.3"/>
<path clip-path="url(#c2)" d="M1985.4 1317.3L2240.4 1317.3"/>
<path clip-path="url(#c1)" d="M306.0 162.7L307.0 192.4L308.0 221.4L309.0 249.8L310.0 277.5L311.0 304.6L312.0 331.0L313.1 356.9L314.1 382.2L315.1 406.9L316.1 431.1L317.1 454.7L318.1 477.8L319.1 500.4L320.1 522.4L321.1 544.0L322.1 565.0L323.1 585.6L324.1 605.7L325.2 625.4L326.2 644.6L327.2 663.4L328.2 681.8L329.2 699.7L330.2 717.3L331.2 734.4L332.2 751.2L333.2 767.5L334.2 783.6L335.2 799.2L336.2 814.5L337.3 829.4L338.3 844.0L339.3 858.3L340.3 872.3L341.3 885.9L342.3 899.2L343.3 912.3L344.3 925.0L345.3 937.5L346.3 949.6L347.3 961.5L348.3 973.1L349.4 984.5L350.4 995.6L351.4 1006.4L352.4 1017.0L353.4 1027.4L354.4 1037.5L355.4 1047.4L356.4 1057.1L357.4 1066.6L358.4 1075.8L359.4 1084.9L360.4 1093.7L361.5 1102.3L362.5 1110.8L363.5 1119.0L364.5 1127.1L365.5 1134.9L366.5 1142.6L367.5 1150.2L368.5 1157.5L369.5 1164.7L370.5 1171.7L371.5 1178.6L372.5 1185.3L373.5 1191.9L374.6 1198.3L375.6 1204.6L376.6 1210.7L377.6 1216.7L378.6 1222.5L379.6 1228.2L380.6 1233.8L381.6 1239.3L382.6 1244.6L383.6 1249.8L384.6 1254.9L385.6 1259.9L386.7 1264.8L387.7 1269.6L388.7 1274.2L389.7 1278.8L390.7 1283.2L391.7 1287.6L392.7 1291.8L393.7 1296.0L394.7 1300.0L395.7 1304.0L396.7 1307.9L397.7 1311.6L398.8 1315.3L399.8 1319.0L400.8 1322.5L401.8 1326.0L402.8 1329.3L403.8 1332.6L404.8 1335.9L405.8 1339.0L406.8 1342.1L407.8 1345.1L408.8 1348.1L409.8 1350.9L410.9 1353.8L411.9 1356.5L412.9 1359.2L413.9 1361.8L414.9 1364.4L415.9 1366.9L416.9 1369.4L417.9 1371.8L418.9 1374.1L419.9 1376.4L420.9 1378.6L421.9 1380.8L423.0 1382.9L424.0 1385.0L425.0 1387.1L426.0 1389.1L427.0 1391.0L428.0 1392.9L429.0 1394.8L430.0 1396.6L431.0 1398.4L432.0 1400.1L433.0 1401.8L434.0 1403.5L435.0 1405.1L436.1 1406.7L437.1 1408.3L438.1 1409.8L439.1 1411.3L440.1 1412.7L441.1 1414.1L442.1 1415.5L443.1 1416.9L444.1 1418.2L445.1 1419.5L446.1 1420.8L447.1 1422.0L448.2 1423.2L449.2 1424.4L450.2 1425.5L451.2 1426.7L452.2 1427.8L453.2 1428.8L454.2 1429.9L455.2 1430.9L456.2 1431.9L457.2 1432.9L458.2 1433.9L459.2 1434.8L460.3 1435.7L461.3 1436.6L462.3 1437.5L463.3 1438.4L464.3 1439.2L465.3 1440.0L466.3 1440.8L467.3 1441.6L468.3 1442.4L469.3 1443.1L470.3 1443.8L471.3 1444.5L472.4 1445.2L473.4 1445.9L474.4 1446.6L475.4 1447.2L476.4 1447.9L477.4 1448.5L478.4 1449.1L479.4 1449.7L480.4 1450.3L481.4 1450.8L482.4 1451.4L483.4 1451.9L484.5 1452.5L485.5 1453.0L486.5 1453.5L487.5 1454.0L488.5 1454.5L489.5 1454.9L490.5 1455.4L491.5 1455.9L492.5 1456.3L493.5 1456.7L494.5 1457.2L495.5 1457.6L496.5 1458.0L497.6 1458.4L498.6 1458.7L499.6 1459.1L500.6 1459.5L501.6 1459.8L502.6 1460.2L503.6 1460.5L504.6 1460.9L505.6 1461.2L506.6 1461.5L507.6 1461.8L508.6 1462.1L509.7 1462.4L510.7 1462.7L511.7 1463.0L512.7 1463.3L513.7 1463.6L514.7 1463.8L515.7 1464.1L516.7 1464.4L517.7 1464.6L518.7 1464.8L519.7 1465.1L520.7 1465.3L521.8 1465.5L522.8 1465.8L523.8 1466.0L524.8 1466.2L525.8 1466.4L526.8 1466.6L527.8 1466.8L528.8 1467.0L529.8 1467.2L530.8 1467.4L531.8 1467.6L532.8 1467.7L533.9 1467.9L534.9 1468.1L535.9 1468.2L536.9 1468.4L537.9 1468.6L538.9 1468.7L539.9 1468.9L540.9 1469.0L541.9 1469.2L542.9 1469.3L543.9 1469.4L544.9 1469.6L546.0 1469.7L547.0 1469.8L548.0 1469.9L552.0 1470.4L556.0 1470.9L560.1 1471.2L564.1 1471.6L568.1 1471.9L572.2 1472.2L576.2 1472.5L580.2 1472.8L584.3 1473.0L588.3 1473.2L592.3 1473.4L596.4 1473.6L600.4 1473.7L604.4 1473.9L608.5 1474.0L612.5 1474.1L616.5 1474.2L620.6 1474.3L624.6 1474.4L628.6 1474.5L632.7 1474.6L636.7 1474.6L640.7 1474.7L644.8 1474.8L648.8 1474.8L652.8 1474.9L656.9 1474.9L660.9 1474.9L664.9 1475.0L669.0 1475.0L673.0 1475.0L677.0 1475.1L681.1 1475.1L685.1 1475.1L689.1 1475.1L693.1 1475.2L697.2 1475.2L701.2 1475.2L705.2 1475.2L709.3 1475.2L713.3 1475.2L717.3 1475.3L721.4 1475.3L725.4 1475.3L729.4 1475.3L733.5 1475.3L737.5 1475.3L741.5 1475.3L745.6 1475.3L749.6 1475.3L753.6 1475.3L757.7 1475.3L761.7 1475.3L765.7 1475.3L769.8 1475.3L773.8 1475.3L777.8 1475.3L781.9 1475.3L785.9 1475.3L789.9 1475.3L794.0 1475.3L798.0 1475.3L802.0 1475.4L806.1 1475.4L810.1 1475.4L814.1 1475.4L818.2 1475.4L822.2 1475.4L826.2 1475.4L830.3 1475.4L834.3 1475.4L838.3 1475.4L842.4 1475.4L846.4 1475.4L850.4 1475.4L854.5 1475.4L858.5 1475.4L862.5 1475.4L866.6 1475.4L870.6 1475.4L874.6 1475.4L878.7 1475.4L882.7 1475.4L886.7 1475.4L890.8 1475.4L894.8 1475.4L898.8 1475.4L902.9 1475.4L906.9 1475.4L910.9 1475.4L931.1 1475.4L951.2 1475.4L971.4 1475.4L991.6 1475.4L1011.7 1475.4L1031.9 1475.4L1052.1 1475.4L1072.2 1475.4L1092.4 1475.4L1112.6 1475.4L1132.7 1475.4L1152.9 1475.4L1173.1 1475.4L1193.2 1475.4L1213.4 1475.4L1233.5 1475.4L1253.7 1475.4L1273.9 1475.4L1294.0 1475.4L1314.2 1475.4L1334.4 1475.4L1354.5 1475.4L1374.7 1475.4L1394.9 1475.4L1415.0 1475.4L1435.2 1475.4L1455.3 1475.4L1475.5 1475.4L1495.7 1475.4L1515.8 1475.4L1536.0 1475.4L1556.2 1475.4L1576.3 1475.4L1596.5 1475.4L1616.7 1475.4L1636.8 1475.4L1657.0 1475.4L1677.2 1475.4L1697.3 1475.4L1717.5 1475.4L1737.6 1475.4L1757.8 1475.4L1778.0 1475.4L1798.1 1475.4L1818.3 1475.4L1838.5 1475.4L1858.6 1475.4L1878.8 1475.4L1899.0 1475.4L1919.1 1475.4L1939.3 1475.4L1959.4 1475.4L1967.5 1475.4"/>
<path clip-path="url(#c2)" d="M1985.4 1475.4L2240.4 1475.4"/>
</g>
<g id="err" clip-path="url(#call)" shape-rendering="crispEdges">
<g stroke="#0000ff" stroke-width="4.00" stroke-linecap="round" fill="none"><path stroke-width="3.5" d="M290.80 49.50H321.80M290.80 275.90H321.80"/><path d="M306.30 49.50V138.70M306.30 186.70V275.90"/><path stroke-width="3.5" d="M310.96 497.77H341.96M310.96 687.95H341.96"/><path d="M326.46 497.77V568.86M326.46 616.86V687.95"/><path stroke-width="3.5" d="M331.13 853.22H362.13M331.13 1011.70H362.13"/><path d="M346.63 853.22V907.86M346.63 955.86V1011.70"/><path stroke-width="3.5" d="M351.29 1095.47H382.29M351.29 1222.25H382.29"/><path d="M366.79 1095.47V1134.36M366.79 1182.36V1222.25"/><path stroke-width="3.5" d="M371.46 1272.06H402.46M371.46 1362.62H402.46"/><path d="M386.96 1272.06V1293.34M386.96 1341.34V1362.62"/><path stroke-width="3.5" d="M411.78 1353.56H442.78M411.78 1462.24H442.78"/><path d="M427.28 1353.56V1385.10M427.28 1433.10V1462.24"/><path stroke-width="3.5" d="M472.28 1389.79H503.28M472.28 1516.57H503.28"/><path d="M487.78 1389.79V1430.38M487.78 1478.38V1516.57"/><path stroke-width="3.5" d="M532.77 1428.28H563.77M532.77 1523.36H563.77"/><path d="M548.27 1428.28V1451.82M548.27 1499.82V1523.36"/><path stroke-width="3.5" d="M593.26 1428.28H624.26M593.26 1523.36H624.26"/><path d="M608.76 1428.28V1451.82M608.76 1499.82V1523.36"/><path stroke-width="3.5" d="M653.75 1428.28H684.75M653.75 1523.36H684.75"/><path d="M669.25 1428.28V1451.82M669.25 1499.82V1523.36"/><path stroke-width="3.5" d="M774.74 1428.28H805.74M774.74 1523.36H805.74"/><path d="M790.24 1428.28V1451.82M790.24 1499.82V1523.36"/><path stroke-width="3.5" d="M895.72 1428.28H926.72M895.72 1523.36H926.72"/><path d="M911.22 1428.28V1451.82M911.22 1499.82V1523.36"/><path stroke-width="3.5" d="M1016.70 1428.28H1047.70M1016.70 1523.36H1047.70"/><path d="M1032.20 1428.28V1451.82M1032.20 1499.82V1523.36"/><path stroke-width="3.5" d="M1258.67 1428.28H1289.67M1258.67 1523.36H1289.67"/><path d="M1274.17 1428.28V1451.82M1274.17 1499.82V1523.36"/><path stroke-width="3.5" d="M1742.61 1428.28H1773.61M1742.61 1523.36H1773.61"/><path d="M1758.11 1428.28V1451.82M1758.11 1499.82V1523.36"/><path stroke-width="3.5" d="M2225.20 1428.28H2256.20M2225.20 1523.36H2256.20"/><path d="M2240.70 1428.28V1451.82M2240.70 1499.82V1523.36"/></g>
<g stroke="#ff0000" stroke-width="4.00" stroke-linecap="round" fill="none"><path stroke-width="3.5" d="M290.80 26.86H321.80M290.80 298.54H321.80"/><path d="M306.30 26.86V143.70M306.30 181.70V298.54"/><path stroke-width="3.5" d="M310.96 410.83H341.96M310.96 639.05H341.96"/><path d="M326.46 410.83V505.94M326.46 543.94V639.05"/><path stroke-width="3.5" d="M331.13 698.82H362.13M331.13 894.42H362.13"/><path d="M346.63 698.82V777.62M346.63 815.62V894.42"/><path stroke-width="3.5" d="M351.29 866.80H382.29M351.29 1043.40H382.29"/><path d="M366.79 866.80V936.10M366.79 974.10V1043.40"/><path stroke-width="3.5" d="M371.46 986.80H402.46M371.46 1149.80H402.46"/><path d="M386.96 986.80V1049.30M386.96 1087.30V1149.80"/><path stroke-width="3.5" d="M411.78 1106.79H442.78M411.78 1256.21H442.78"/><path d="M427.28 1106.79V1162.50M427.28 1200.50V1256.21"/><path stroke-width="3.5" d="M472.28 1178.78H503.28M472.28 1320.06H503.28"/><path d="M487.78 1178.78V1230.42M487.78 1268.42V1320.06"/><path stroke-width="3.5" d="M532.77 1226.78H563.77M532.77 1362.62H563.77"/><path d="M548.27 1226.78V1275.70M548.27 1313.70V1362.62"/><path stroke-width="3.5" d="M593.26 1226.78H624.26M593.26 1362.62H624.26"/><path d="M608.76 1226.78V1275.70M608.76 1313.70V1362.62"/><path stroke-width="3.5" d="M653.75 1250.78H684.75M653.75 1383.90H684.75"/><path d="M669.25 1250.78V1298.34M669.25 1336.34V1383.90"/><path stroke-width="3.5" d="M774.74 1250.78H805.74M774.74 1383.90H805.74"/><path d="M790.24 1250.78V1298.34M790.24 1336.34V1383.90"/><path stroke-width="3.5" d="M895.72 1250.78H926.72M895.72 1383.90H926.72"/><path d="M911.22 1250.78V1298.34M911.22 1336.34V1383.90"/><path stroke-width="3.5" d="M1016.70 1250.78H1047.70M1016.70 1383.90H1047.70"/><path d="M1032.20 1250.78V1298.34M1032.20 1336.34V1383.90"/><path stroke-width="3.5" d="M1258.67 1250.78H1289.67M1258.67 1383.90H1289.67"/><path d="M1274.17 1250.78V1298.34M1274.17 1336.34V1383.90"/><path stroke-width="3.5" d="M1742.61 1250.78H1773.61M1742.61 1383.90H1773.61"/><path d="M1758.11 1250.78V1298.34M1758.11 1336.34V1383.90"/><path stroke-width="3.5" d="M2225.20 1250.78H2256.20M2225.20 1383.90H2256.20"/><path d="M2240.70 1250.78V1298.34M2240.70 1336.34V1383.90"/></g>
<g stroke="#000000" stroke-width="4.00" stroke-linecap="round" fill="none"><path stroke-width="3.5" d="M290.80 72.14H321.80M290.80 253.26H321.80"/><path d="M306.30 72.14V143.70M306.30 181.70V253.26"/><path stroke-width="3.5" d="M310.96 260.50H341.96M310.96 427.14H341.96"/><path d="M326.46 260.50V324.82M326.46 362.82V427.14"/><path stroke-width="3.5" d="M331.13 354.69H362.13M331.13 514.07H362.13"/><path d="M346.63 354.69V415.38M346.63 453.38V514.07"/><path stroke-width="3.5" d="M351.29 378.23H382.29M351.29 535.81H382.29"/><path d="M366.79 378.23V438.02M366.79 476.02V535.81"/><path stroke-width="3.5" d="M371.46 401.78H402.46M371.46 557.54H402.46"/><path d="M386.96 401.78V460.66M386.96 498.66V557.54"/><path stroke-width="3.5" d="M411.78 425.32H442.78M411.78 579.28H442.78"/><path d="M427.28 425.32V483.30M427.28 521.30V579.28"/><path stroke-width="3.5" d="M472.28 472.42H503.28M472.28 622.74H503.28"/><path d="M487.78 472.42V528.58M487.78 566.58V622.74"/><path stroke-width="3.5" d="M532.77 495.96H563.77M532.77 644.48H563.77"/><path d="M548.27 495.96V551.22M548.27 589.22V644.48"/><path stroke-width="3.5" d="M593.26 519.51H624.26M593.26 666.21H624.26"/><path d="M608.76 519.51V573.86M608.76 611.86V666.21"/><path stroke-width="3.5" d="M653.75 543.05H684.75M653.75 687.95H684.75"/><path d="M669.25 543.05V596.50M669.25 634.50V687.95"/><path stroke-width="3.5" d="M774.74 565.66H805.74M774.74 708.81H805.74"/><path d="M790.24 565.66V618.23M790.24 656.23V708.81"/><path stroke-width="3.5" d="M895.72 613.69H926.72M895.72 753.15H926.72"/><path d="M911.22 613.69V664.42M911.22 702.42V753.15"/><path stroke-width="3.5" d="M1016.70 660.78H1047.70M1016.70 796.62H1047.70"/><path d="M1032.20 660.78V709.70M1032.20 747.70V796.62"/><path stroke-width="3.5" d="M1258.67 684.33H1289.67M1258.67 818.35H1289.67"/><path d="M1274.17 684.33V732.34M1274.17 770.34V818.35"/><path stroke-width="3.5" d="M1742.61 684.33H1773.61M1742.61 818.35H1773.61"/><path d="M1758.11 684.33V732.34M1758.11 770.34V818.35"/><path stroke-width="3.5" d="M2225.20 684.33H2256.20M2225.20 818.35H2256.20"/><path d="M2240.70 684.33V732.34M2240.70 770.34V818.35"/></g>
</g>
<text transform="translate(254.38 1536.62) scale(0.9460 1)" font-size="64.5" text-anchor="end" style="letter-spacing:-2.03px">40</text>
<text transform="translate(254.38 1310.20) scale(0.9460 1)" font-size="64.5" text-anchor="end" style="letter-spacing:-2.03px">50</text>
<text transform="translate(254.38 1083.78) scale(0.9460 1)" font-size="64.5" text-anchor="end" style="letter-spacing:-2.03px">60</text>
<text transform="translate(254.38 857.36) scale(0.9460 1)" font-size="64.5" text-anchor="end" style="letter-spacing:-2.03px">70</text>
<text transform="translate(254.38 630.94) scale(0.9460 1)" font-size="64.5" text-anchor="end" style="letter-spacing:-2.03px">80</text>
<text transform="translate(254.38 404.52) scale(0.9460 1)" font-size="64.5" text-anchor="end" style="letter-spacing:-2.03px">90</text>
<text transform="translate(254.38 178.10) scale(0.9460 1)" font-size="64.5" text-anchor="end" style="letter-spacing:-2.03px">100</text>
<text transform="translate(305.70 1730.00) scale(0.9460 1)" font-size="64.5" text-anchor="middle" style="letter-spacing:-2.03px">0</text>
<text transform="translate(507.34 1730.00) scale(0.9460 1)" font-size="64.5" text-anchor="middle" style="letter-spacing:-2.03px">50</text>
<text transform="translate(708.98 1730.00) scale(0.9460 1)" font-size="64.5" text-anchor="middle" style="letter-spacing:-2.03px">100</text>
<text transform="translate(910.62 1730.00) scale(0.9460 1)" font-size="64.5" text-anchor="middle" style="letter-spacing:-2.03px">150</text>
<text transform="translate(1112.26 1730.00) scale(0.9460 1)" font-size="64.5" text-anchor="middle" style="letter-spacing:-2.03px">200</text>
<text transform="translate(1313.90 1730.00) scale(0.9460 1)" font-size="64.5" text-anchor="middle" style="letter-spacing:-2.03px">250</text>
<text transform="translate(1515.54 1730.00) scale(0.9460 1)" font-size="64.5" text-anchor="middle" style="letter-spacing:-2.03px">300</text>
<text transform="translate(1717.18 1730.00) scale(0.9460 1)" font-size="64.5" text-anchor="middle" style="letter-spacing:-2.03px">350</text>
<text transform="translate(1918.82 1730.00) scale(0.9460 1)" font-size="64.5" text-anchor="middle" style="letter-spacing:-2.03px">400</text>
<text transform="translate(2060.90 1730.00) scale(0.9460 1)" font-size="64.5" text-anchor="middle" style="letter-spacing:-2.03px">1200</text>
<text transform="translate(2210.90 1730.00) scale(0.9460 1)" font-size="64.5" text-anchor="middle" style="letter-spacing:-2.03px">1400</text>
<text transform="translate(1288.40 1852.80) scale(0.9400 1)" font-size="78" text-anchor="middle" style="letter-spacing:-1.00px">Time (min)</text>
<text transform="translate(97.8 1055.6) rotate(-90) scale(0.955 1)" font-size="78">C<tspan font-size="47.5" dx="-0.3" dy="29">t</tspan><tspan dx="0.35" dy="-29" style="letter-spacing:0.85px"> (mg/L)</tspan></text>
<g id="legend-sym" shape-rendering="crispEdges">
<path d="M1786.30 102.70L1810.70 143.90L1761.90 143.90Z" fill="#0000ff"/>
<circle cx="1786.30" cy="198.50" r="19.60" fill="#ff0000"/>
<rect x="1769.00" y="250.00" width="35" height="35" fill="#000000"/>
</g>
<path d="M1725.8 335.8H1848.2" stroke="#000" stroke-width="8" stroke-linecap="round" fill="none" shape-rendering="crispEdges"/>
<path d="M1725.8 404.8H1746.8M1779 404.8H1801.3" stroke="#000" stroke-width="8" stroke-linecap="round" fill="none" shape-rendering="crispEdges"/>
<text transform="translate(1862.50 147.80) scale(0.9400 1)" font-size="58" text-anchor="start" style="letter-spacing:-0.90px">CS-HMF/Ni</text>
<text transform="translate(1862.50 216.70) scale(0.9400 1)" font-size="58" text-anchor="start" style="letter-spacing:-0.90px">CS-HMF/Hg</text>
<text transform="translate(1862.50 285.60) scale(0.9400 1)" font-size="58" text-anchor="start" style="letter-spacing:-0.90px">CS-HMF/Ba</text>
<text transform="translate(1863.00 354.50) scale(0.9400 1)" font-size="58" text-anchor="start" style="letter-spacing:-0.90px">Pseudo-1st</text>
<text transform="translate(1863.00 423.40) scale(0.9400 1)" font-size="58" text-anchor="start" style="letter-spacing:-0.90px">Pseudo-2nd</text>
</svg>
</body></html>
